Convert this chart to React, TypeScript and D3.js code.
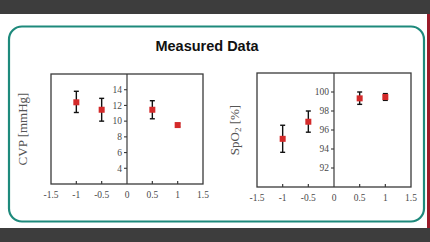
import React from "react";
import * as d3 from "d3";

const xTicks = [-1.5, -1, -0.5, 0, 0.5, 1, 1.5];
const xTickLabels = ["-1.5", "-1", "-0.5", "0", "0.5", "1", "1.5"];

const cvpX = [-1, -0.5, 0.5, 1];
const cvpMean = [12.4, 11.45, 11.45, 9.5];
const cvpLow = [11.1, 10.0, 10.3, 9.3];
const cvpHigh = [13.8, 12.9, 12.6, 9.7];
const cvpTicks = [4, 6, 8, 10, 12, 14];

const spoX = [-1, -0.5, 0.5, 1];
const spoMean = [95.07, 96.87, 99.33, 99.47];
const spoLow = [93.65, 95.77, 98.7, 99.12];
const spoHigh = [96.5, 98.0, 100.0, 99.83];
const spoTicks = [92, 94, 96, 98, 100];

type PanelProps = {
  x0: number; x1: number; y0: number; y1: number;
  yDomain: [number, number];
  yTicks: number[];
  xs: number[]; mean: number[]; low: number[]; high: number[];
  label: React.ReactNode;
  labelX: number;
};

function Panel(p: PanelProps) {
  const x = d3.scaleLinear().domain([-1.5, 1.5]).range([p.x0, p.x1]);
  const y = d3.scaleLinear().domain(p.yDomain).range([p.y1, p.y0]);
  const ax = x(0);
  const ms = 6;
  const labelY = (p.y0 + p.y1) / 2;
  return (
    <g>
      <rect x={p.x0} y={p.y0} width={p.x1 - p.x0} height={p.y1 - p.y0} fill="none" stroke="#3a3a3a" strokeWidth={1.3} />
      <line x1={ax} x2={ax} y1={p.y0} y2={p.y1} stroke="#3a3a3a" strokeWidth={1.2} />
      {xTicks.map((t, i) => (
        <g key={"xt" + i}>
          {i > 0 && i < xTicks.length - 1 && t !== 0 && (
            <line x1={x(t)} x2={x(t)} y1={p.y1} y2={p.y1 - 3} stroke="#3a3a3a" strokeWidth={1.2} />
          )}
          <text x={x(t)} y={p.y1 + 14} textAnchor="middle" fontFamily="Liberation Serif" fontSize={9.5} fill="#4a4a4a">
            {xTickLabels[i]}
          </text>
        </g>
      ))}
      {p.yTicks.map((t, i) => (
        <g key={"yt" + i}>
          <line x1={ax - 3} x2={ax} y1={y(t)} y2={y(t)} stroke="#3a3a3a" strokeWidth={1.1} />
          <text x={ax - 5} y={y(t) + 3.3} textAnchor="end" fontFamily="Liberation Serif" fontSize={9.5} fill="#4a4a4a">
            {t}
          </text>
        </g>
      ))}
      {p.xs.map((v, i) => (
        <g key={"pt" + i}>
          <line x1={x(v)} x2={x(v)} y1={y(p.low[i])} y2={y(p.high[i])} stroke="#111" strokeWidth={1.4} />
          <line x1={x(v) - 2.5} x2={x(v) + 2.5} y1={y(p.low[i])} y2={y(p.low[i])} stroke="#111" strokeWidth={1.4} />
          <line x1={x(v) - 2.5} x2={x(v) + 2.5} y1={y(p.high[i])} y2={y(p.high[i])} stroke="#111" strokeWidth={1.4} />
          <rect x={x(v) - ms / 2} y={y(p.mean[i]) - ms / 2} width={ms} height={ms} fill="#d42a2a" />
        </g>
      ))}
      <text transform={`translate(${p.labelX},${labelY}) rotate(-90)`} textAnchor="middle" fontFamily="Liberation Serif" fontSize={13} fill="#555">
        {p.label}
      </text>
    </g>
  );
}

export default function App() {
  return (
    <svg width={430} height={242} style={{ position: "absolute", left: 0, top: 0 }}>
      <rect x={0} y={0} width={430} height={242} fill="#3d3d3d" />
      <rect x={0} y={14} width={430} height={214} fill="#ffffff" />
      <rect x={427} y={14} width={3} height={214} fill="#9b1b2a" />
      <rect x={9} y={26.5} width={415} height={195} rx={13} ry={13} fill="none" stroke="#1e8a7c" strokeWidth={2.2} />
      <text x={207} y={50.5} textAnchor="middle" fontFamily="Liberation Sans" fontWeight="bold" fontSize={14.5} fill="#111">
        Measured Data
      </text>
      <Panel x0={51} x1={203} y0={74} y1={184} yDomain={[2, 16]} yTicks={cvpTicks}
        xs={cvpX} mean={cvpMean} low={cvpLow} high={cvpHigh} label="CVP [mmHg]" labelX={27} />
      <Panel x0={257} x1={411} y0={73} y1={187} yDomain={[90, 102]} yTicks={spoTicks}
        xs={spoX} mean={spoMean} low={spoLow} high={spoHigh}
        label={<>SpO<tspan fontSize={9} dy={2}>2</tspan><tspan dy={-2}> [%]</tspan></>} labelX={239} />
    </svg>
  );
}
